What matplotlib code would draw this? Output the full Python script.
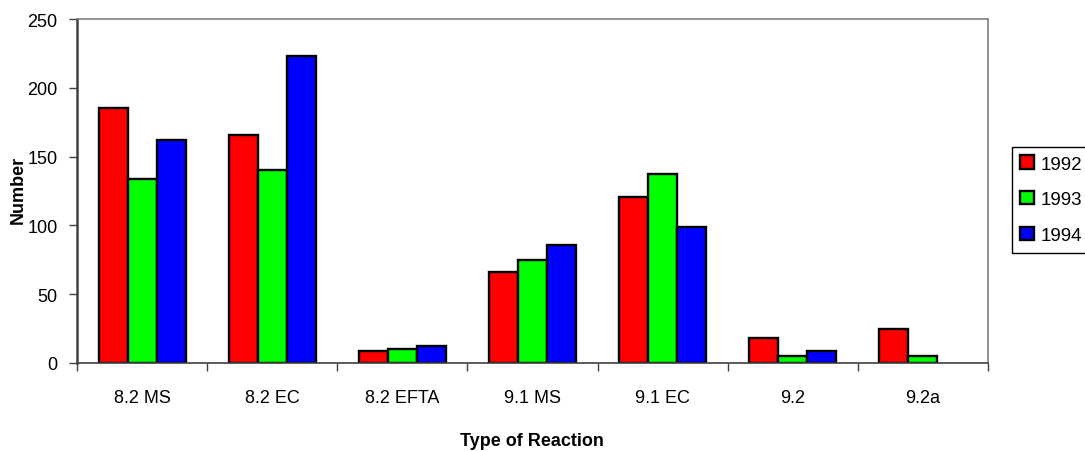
import matplotlib.pyplot as plt
import numpy as np

plt.rcParams['font.family'] = ['Liberation Sans', 'DejaVu Sans']

categories = ['8.2 MS', '8.2 EC', '8.2 EFTA', '9.1 MS', '9.1 EC', '9.2', '9.2a']
years = ['1992', '1993', '1994']
v1992 = [185, 166, 9, 66, 121, 18, 25]
v1993 = [134, 140, 10, 75, 137, 5, 5]
v1994 = [162, 223, 12, 86, 99, 9, 0]
colors = ['#ff0000', '#00ff00', '#0000ff']

fig = plt.figure(figsize=(10.85, 4.52), dpi=100)
ax = fig.add_axes([77/1085, 1-364/452, (988-77)/1085, (364-20)/452])

x = np.arange(len(categories))
w = 0.223
series = [v1992, v1993, v1994]
for i, vals in enumerate(series):
    # no outline for empty bars
    lws = [1.7 if v > 0 else 0 for v in vals]
    ax.bar(x + (i-1)*w, vals, w, color=colors[i], edgecolor='black',
           linewidth=lws, label=years[i])

ax.set_xlim(-0.5, len(categories)-0.5)
ax.set_ylim(0, 250)
ax.set_yticks(range(0, 251, 50))

# boundary ticks (major) and centered labels (minor)
ax.set_xticks(np.arange(-0.5, len(categories), 1.0))
ax.set_xticklabels([])
ax.set_xticks(x, minor=True)
ax.set_xticklabels(categories, minor=True)
ax.tick_params(axis='x', which='major', direction='out', length=6, width=1, color='#404040')
ax.tick_params(axis='x', which='minor', length=0, pad=19, labelsize=13)
ax.tick_params(axis='y', direction='out', length=6, width=1, color='#404040', pad=8, labelsize=13)

for s in ax.spines.values():
    s.set_color('#808080')
    s.set_linewidth(1.2)
ax.spines['left'].set_color('#404040')
ax.spines['left'].set_linewidth(1.8)
ax.spines['bottom'].set_color('#404040')

fig.text(18/1085, 1-190/452, 'Number', rotation=90, ha='center', va='center',
         fontsize=13, fontweight='bold')
fig.text(532/1085, 1-442/452, 'Type of Reaction', ha='center', va='center',
         fontsize=13, fontweight='bold')

leg = ax.legend(loc='upper left', bbox_to_anchor=(1012/1085, 1-148/452),
                bbox_transform=fig.transFigure, borderaxespad=0,
                fontsize=13.5, handlelength=0.7, handleheight=0.7,
                handletextpad=0.35, labelspacing=1.0, fancybox=False,
                borderpad=0.45, framealpha=1)
leg.get_frame().set_edgecolor('black')
leg.get_frame().set_linewidth(1)
for h in leg.legend_handles:
    h.set_linewidth(1.7)

fig.savefig('out.png', dpi=100)
